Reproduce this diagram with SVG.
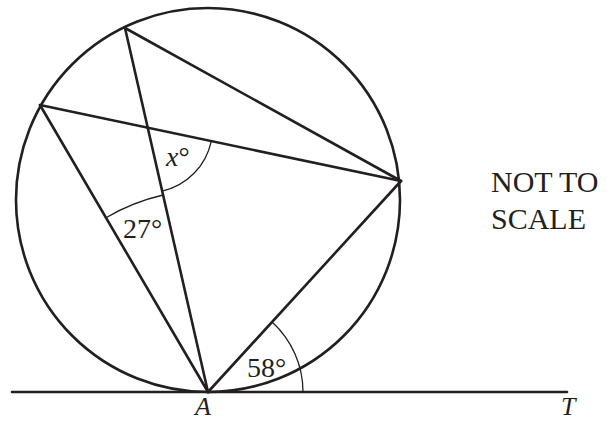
<svg xmlns="http://www.w3.org/2000/svg" width="611" height="421" viewBox="0 0 611 421">
<style>
.thick{fill:none;stroke:#231f20;stroke-width:2.6;stroke-linecap:round;stroke-linejoin:round}
.thin{fill:none;stroke:#231f20;stroke-width:1.3}
.lbl{font-family:"Liberation Serif","Times New Roman",serif;font-size:28px;fill:#231f20}
.it{font-style:italic}
.sm{font-size:26px}
.note{font-size:30px}
</style>
<rect width="611" height="421" fill="#fff"/>
<g id="circle"><circle class="thick" cx="208" cy="200" r="192"/></g>
<g id="connectors">
<line class="thick" x1="12" y1="392" x2="567" y2="392"/>
<line class="thick" x1="125" y1="28" x2="208" y2="392"/>
<line class="thick" x1="125" y1="28" x2="401" y2="181"/>
<line class="thick" x1="40" y1="105" x2="401" y2="181"/>
<line class="thick" x1="40" y1="105" x2="208" y2="392"/>
<line class="thick" x1="401" y1="181" x2="208" y2="392"/>
</g>
<g id="arcs">
<path class="thin" d="M211.3,141.1 A65,65 0 0 1 162.2,191.1"/>
<path class="thin" d="M106,217.7 A202,202 0 0 1 163.1,195"/>
<path class="thin" d="M272.1,321.9 A95,95 0 0 1 303,392"/>
</g>
<g id="labels">
<text class="lbl" x="166" y="166"><tspan class="it">x</tspan>°</text>
<text class="lbl" x="123" y="238">27°</text>
<text class="lbl" x="247" y="377">58°</text>
<text class="lbl it sm" x="195" y="415">A</text>
<text class="lbl it sm" x="561" y="415">T</text>
<text class="lbl note" x="491" y="192">NOT TO</text>
<text class="lbl note" x="491" y="229">SCALE</text>
</g>
</svg>
